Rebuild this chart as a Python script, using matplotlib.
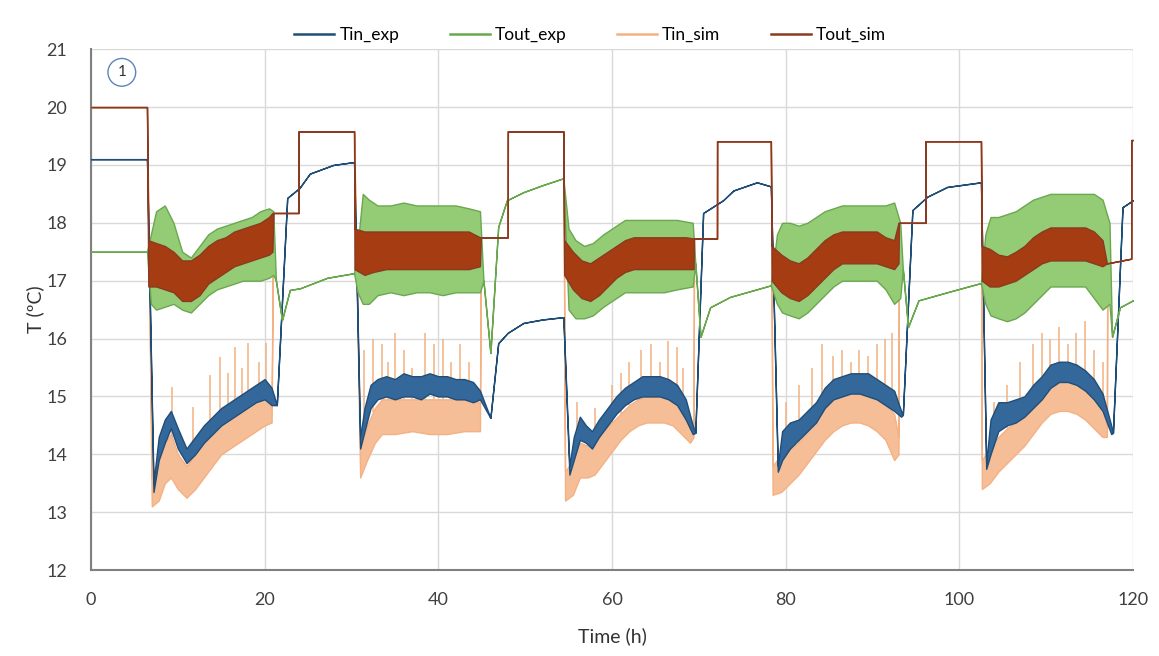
import numpy as np
import matplotlib
matplotlib.use("Agg")
import matplotlib.pyplot as plt
from matplotlib.lines import Line2D

plt.rcParams['font.family'] = ['Lato', 'DejaVu Sans']

# Each series: time (h), lower and upper envelope (ºC). lo == hi where the signal is a plain line.
tin_exp_t = [0, 6.45, 7.2, 7.8, 8.5, 9.2, 10.0, 11.0, 12.0, 13.0, 14.0, 15.0, 16.0, 17.0, 18.0, 19.0, 20.0, 20.8,
             21.4, 22.6, 24.0, 25.2, 27.9, 30.3,
             31.0, 31.5, 32.2, 33.0, 34.0, 35.0, 36.0, 37.0, 38.0, 39.0, 40.0, 41.0, 42.0, 43.0, 44.0, 44.8,
             46.0, 46.9, 48.0, 49.8, 52.0, 54.4,
             55.1, 55.6, 56.3, 57.0, 57.7, 58.5, 59.5, 60.5, 61.5, 62.5, 63.5, 64.5, 65.5, 66.5, 67.5, 68.5, 69.3,
             69.6, 70.5, 72.8, 74.0, 76.7, 78.3,
             79.1, 79.6, 80.5, 81.5, 82.5, 83.5, 84.5, 85.5, 86.5, 87.5, 88.5, 89.5, 90.5, 91.5, 92.5, 93.3,
             93.5, 94.6, 96.3, 98.6, 102.5,
             103.1, 103.6, 104.5, 105.5, 106.5, 107.5, 108.5, 109.5, 110.5, 111.5, 112.5, 113.5, 114.5, 115.5, 116.5, 117.5,
             117.7, 118.8, 120.0]
tin_exp_lo = [19.1, 19.1, 13.35, 13.9, 14.2, 14.45, 14.1, 13.85, 14.0, 14.2, 14.35, 14.5, 14.6, 14.7, 14.8, 14.9, 14.95, 14.85,
              14.85, 18.43, 18.6, 18.85, 19.0, 19.05,
              14.1, 14.4, 14.8, 14.95, 15.0, 14.95, 15.0, 15.0, 14.95, 15.05, 15.0, 15.0, 14.95, 14.95, 14.9, 14.95,
              14.63, 15.92, 16.1, 16.27, 16.33, 16.37,
              13.65, 13.9, 14.25, 14.2, 14.1, 14.3, 14.5, 14.7, 14.85, 14.95, 15.0, 15.0, 15.0, 14.95, 14.85, 14.6, 14.35,
              14.37, 18.17, 18.39, 18.56, 18.7, 18.63,
              13.7, 13.9, 14.1, 14.25, 14.4, 14.55, 14.8, 14.95, 15.0, 15.05, 15.05, 15.0, 14.95, 14.85, 14.75, 14.65,
              14.68, 18.22, 18.45, 18.62, 18.7,
              13.75, 14.0, 14.4, 14.5, 14.55, 14.65, 14.8, 14.95, 15.15, 15.25, 15.25, 15.2, 15.1, 14.95, 14.75, 14.35,
              14.37, 18.27, 18.39]
tin_exp_hi = [19.1, 19.1, 13.5, 14.3, 14.6, 14.75, 14.45, 14.1, 14.3, 14.5, 14.65, 14.8, 14.9, 15.0, 15.1, 15.2, 15.3, 15.15,
              14.85, 18.43, 18.6, 18.85, 19.0, 19.05,
              14.3, 14.8, 15.2, 15.3, 15.35, 15.3, 15.4, 15.35, 15.35, 15.4, 15.35, 15.35, 15.3, 15.3, 15.25, 15.1,
              14.63, 15.92, 16.1, 16.27, 16.33, 16.37,
              13.8, 14.3, 14.65, 14.5, 14.4, 14.6, 14.8, 15.0, 15.15, 15.25, 15.35, 15.35, 15.35, 15.3, 15.2, 14.95, 14.5,
              14.37, 18.17, 18.39, 18.56, 18.7, 18.63,
              13.8, 14.4, 14.55, 14.6, 14.75, 14.9, 15.15, 15.3, 15.35, 15.4, 15.4, 15.4, 15.3, 15.2, 15.1, 14.75,
              14.68, 18.22, 18.45, 18.62, 18.7,
              13.85, 14.6, 14.9, 14.9, 14.95, 15.0, 15.2, 15.35, 15.55, 15.6, 15.6, 15.55, 15.45, 15.3, 15.05, 14.5,
              14.37, 18.27, 18.39]

tout_exp_t = [0, 6.45, 6.9, 7.5, 8.5, 9.5, 10.5, 11.5, 12.5, 13.5, 14.5, 15.5, 16.5, 17.5, 18.5, 19.5, 20.5, 21.0,
              21.3, 22.0, 22.9, 24.1, 27.2, 30.3,
              30.7, 31.3, 32.0, 33.0, 34.5, 36.0, 37.5, 39.0, 40.5, 42.0, 43.5, 44.8,
              45.2, 46.0, 46.9, 47.9, 49.8, 52.0, 54.4,
              55.0, 55.8, 56.8, 57.8, 59.0, 60.0, 61.5, 63.0, 64.5, 66.0, 67.5, 69.3,
              69.6, 70.2, 71.3, 73.6, 78.3,
              79.0, 79.6, 80.5, 81.5, 82.5, 83.5, 84.5, 85.5, 86.5, 88.5, 90.5, 91.5, 92.5, 93.2,
              93.5, 94.1, 95.3, 98.6, 102.5,
              103.0, 103.6, 104.5, 105.5, 106.5, 107.5, 108.5, 109.5, 110.5, 112.5, 114.5, 115.5, 116.5, 117.3,
              117.6, 118.5, 120.0]
tout_exp_lo = [17.5, 17.5, 16.6, 16.5, 16.55, 16.6, 16.5, 16.45, 16.6, 16.75, 16.85, 16.9, 16.95, 17.0, 17.0, 17.0, 17.05, 17.1,
               17.0, 16.32, 16.84, 16.87, 17.05, 17.13,
               16.8, 16.6, 16.6, 16.75, 16.8, 16.75, 16.8, 16.8, 16.75, 16.8, 16.8, 16.8,
               17.0, 15.75, 17.93, 18.39, 18.53, 18.65, 18.77,
               16.5, 16.35, 16.35, 16.4, 16.55, 16.65, 16.8, 16.8, 16.8, 16.8, 16.85, 16.9,
               17.3, 16.03, 16.54, 16.72, 16.92,
               16.6, 16.45, 16.4, 16.35, 16.45, 16.6, 16.75, 16.9, 17.0, 17.0, 17.0, 16.85, 16.6, 16.7,
               17.2, 16.2, 16.66, 16.8, 16.96,
               16.6, 16.4, 16.35, 16.3, 16.35, 16.45, 16.6, 16.75, 16.9, 16.9, 16.9, 16.7, 16.5, 16.6,
               16.03, 16.54, 16.66]
tout_exp_hi = [17.5, 17.5, 17.8, 18.2, 18.3, 18.0, 17.5, 17.4, 17.6, 17.8, 17.9, 17.95, 18.0, 18.05, 18.1, 18.2, 18.25, 18.2,
               17.0, 16.32, 16.84, 16.87, 17.05, 17.13,
               17.6, 18.5, 18.4, 18.3, 18.3, 18.35, 18.3, 18.3, 18.3, 18.3, 18.25, 18.2,
               17.0, 15.75, 17.93, 18.39, 18.53, 18.65, 18.77,
               17.9, 17.7, 17.6, 17.65, 17.8, 17.9, 18.05, 18.05, 18.05, 18.05, 18.05, 18.0,
               17.3, 16.03, 16.54, 16.72, 16.92,
               17.8, 18.0, 18.0, 17.95, 18.0, 18.1, 18.2, 18.25, 18.3, 18.3, 18.3, 18.3, 18.35, 18.0,
               17.2, 16.2, 16.66, 16.8, 16.96,
               17.8, 18.1, 18.1, 18.15, 18.2, 18.3, 18.4, 18.45, 18.5, 18.5, 18.5, 18.5, 18.4, 18.0,
               16.03, 16.54, 16.66]

tin_sim_t = [0, 6.45, 7.0, 7.8, 8.5, 9.2, 10.0, 11.0, 12.0, 13.0, 14.0, 15.0, 16.0, 17.0, 18.0, 19.0, 20.0, 20.8,
             21.0, 23.9, 23.91, 30.3,
             31.0, 31.8, 32.7, 33.5, 35.0, 37.0, 39.0, 41.0, 43.0, 44.8,
             44.9, 48.0, 48.01, 54.4,
             54.6, 55.5, 56.3, 57.2, 58.0, 59.0, 60.0, 61.0, 62.0, 63.0, 64.0, 65.0, 66.0, 67.0, 68.0, 69.0, 69.4,
             69.45, 72.1, 72.11, 78.3,
             78.5, 79.5, 80.5, 81.5, 82.5, 83.5, 84.5, 85.5, 86.5, 87.5, 88.5, 89.5, 90.5, 91.5, 92.5, 93.0,
             93.05, 96.1, 96.11, 102.5,
             102.6, 103.5, 104.5, 105.5, 106.5, 107.5, 108.5, 109.5, 110.5, 111.5, 112.5, 113.5, 114.5, 115.5, 116.5, 117.0,
             117.05, 119.8, 119.81, 120.0]
tin_sim_lo = [20.0, 20.0, 13.1, 13.2, 13.5, 13.6, 13.4, 13.25, 13.4, 13.6, 13.8, 14.0, 14.1, 14.2, 14.3, 14.4, 14.5, 14.55,
              18.17, 18.17, 19.58, 19.58,
              13.6, 13.9, 14.2, 14.35, 14.35, 14.4, 14.35, 14.35, 14.4, 14.4,
              17.75, 17.75, 19.58, 19.58,
              13.2, 13.3, 13.6, 13.6, 13.65, 13.85, 14.05, 14.25, 14.4, 14.5, 14.55, 14.55, 14.55, 14.5, 14.35, 14.2, 14.3,
              17.73, 17.73, 19.41, 19.41,
              13.3, 13.35, 13.5, 13.65, 13.85, 14.05, 14.25, 14.4, 14.5, 14.55, 14.55, 14.5, 14.4, 14.25, 13.9, 14.0,
              18.0, 18.0, 19.41, 19.41,
              13.4, 13.5, 13.7, 13.85, 14.0, 14.15, 14.35, 14.55, 14.7, 14.75, 14.75, 14.7, 14.6, 14.45, 14.3, 14.3,
              17.3, 17.38, 19.43, 19.43]
tin_sim_hi = [20.0, 20.0, 13.6, 13.9, 14.2, 14.35, 14.0, 13.8, 14.0, 14.2, 14.4, 14.55, 14.65, 14.75, 14.85, 14.95, 15.0, 14.95,
              18.17, 18.17, 19.58, 19.58,
              14.1, 14.5, 14.8, 14.95, 14.95, 14.95, 14.95, 14.95, 14.95, 14.9,
              17.75, 17.75, 19.58, 19.58,
              13.7, 13.9, 14.2, 14.15, 14.2, 14.4, 14.55, 14.7, 14.85, 14.95, 15.0, 15.0, 15.0, 14.95, 14.8, 14.6, 14.4,
              17.73, 17.73, 19.41, 19.41,
              13.8, 14.0, 14.1, 14.2, 14.4, 14.6, 14.8, 14.95, 15.05, 15.1, 15.1, 15.05, 14.95, 14.85, 14.7, 14.3,
              18.0, 18.0, 19.41, 19.41,
              13.9, 14.1, 14.3, 14.45, 14.55, 14.7, 14.9, 15.1, 15.25, 15.3, 15.3, 15.25, 15.15, 15.0, 14.8, 14.5,
              17.3, 17.38, 19.43, 19.43]

tout_sim_t = [0, 6.45, 6.6, 7.5, 8.5, 9.5, 10.5, 11.5, 12.5, 13.5, 14.5, 15.5, 16.5, 17.5, 18.5, 19.5, 20.5, 20.9,
              21.0, 23.9, 23.91, 30.3,
              30.35, 31.5, 32.5, 34.0, 36.0, 38.0, 40.0, 42.0, 43.5, 44.8,
              44.9, 48.0, 48.01, 54.4,
              54.5, 55.5, 56.5, 57.5, 58.5, 59.5, 60.5, 61.5, 62.5, 64.5, 66.5, 68.5, 69.4,
              69.45, 72.1, 72.11, 78.3,
              78.4, 79.5, 80.5, 81.5, 82.5, 83.5, 84.5, 85.5, 86.5, 88.5, 90.5, 91.5, 92.5, 93.0,
              93.05, 96.1, 96.11, 102.5,
              102.6, 103.5, 104.5, 105.5, 106.5, 107.5, 108.5, 109.5, 110.5, 112.5, 114.5, 115.5, 116.5, 117.0,
              117.05, 119.8, 119.81, 120.0]
tout_sim_lo = [20.0, 20.0, 16.9, 16.9, 16.85, 16.8, 16.65, 16.65, 16.75, 16.95, 17.05, 17.15, 17.25, 17.3, 17.35, 17.4, 17.45, 17.5,
               18.17, 18.17, 19.58, 19.58,
               17.2, 17.1, 17.15, 17.2, 17.2, 17.2, 17.2, 17.2, 17.2, 17.25,
               17.75, 17.75, 19.58, 19.58,
               17.1, 16.85, 16.7, 16.65, 16.75, 16.9, 17.05, 17.15, 17.2, 17.2, 17.2, 17.2, 17.2,
               17.73, 17.73, 19.41, 19.41,
               17.0, 16.8, 16.7, 16.65, 16.75, 16.9, 17.05, 17.2, 17.3, 17.3, 17.3, 17.25, 17.2, 17.3,
               18.0, 18.0, 19.41, 19.41,
               17.0, 16.9, 16.9, 16.95, 17.0, 17.1, 17.2, 17.3, 17.35, 17.35, 17.35, 17.3, 17.25, 17.3,
               17.3, 17.38, 19.43, 19.43]
tout_sim_hi = [20.0, 20.0, 17.7, 17.65, 17.6, 17.5, 17.35, 17.35, 17.45, 17.6, 17.7, 17.75, 17.85, 17.9, 17.95, 18.0, 18.1, 18.17,
               18.17, 18.17, 19.58, 19.58,
               17.9, 17.85, 17.85, 17.85, 17.85, 17.85, 17.85, 17.85, 17.85, 17.75,
               17.75, 17.75, 19.58, 19.58,
               17.7, 17.5, 17.35, 17.3, 17.4, 17.5, 17.6, 17.7, 17.75, 17.75, 17.75, 17.75, 17.73,
               17.73, 17.73, 19.41, 19.41,
               17.6, 17.45, 17.35, 17.3, 17.4, 17.55, 17.7, 17.8, 17.85, 17.85, 17.85, 17.75, 17.7, 18.0,
               18.0, 18.0, 19.41, 19.41,
               17.6, 17.55, 17.45, 17.42, 17.5, 17.6, 17.75, 17.85, 17.92, 17.92, 17.92, 17.85, 17.7, 17.3,
               17.3, 17.38, 19.43, 19.43]

# upward spikes of Tin_sim (time, peak)
tin_sim_spike_t = [9.3, 11.8, 13.7, 14.9, 15.8, 16.6, 17.4, 18.1, 19.3, 20.2,
                   31.5, 32.5, 33.5, 34.2, 35.0, 36.0, 37.0, 38.5, 39.5, 40.5, 41.5, 42.5, 43.5,
                   56.0, 58.0, 60.0, 61.0, 62.0, 63.3, 64.5, 65.5, 66.5, 67.5, 68.2,
                   80.0, 81.5, 83.0, 84.2, 85.5, 86.5, 87.5, 88.5, 89.5, 90.5, 91.5, 92.3,
                   104.0, 105.5, 107.0, 108.5, 109.5, 110.5, 111.5, 112.5, 113.5, 114.5, 115.5, 116.5]
tin_sim_spike_v = [15.16, 14.82, 15.37, 15.68, 15.4, 15.85, 15.5, 15.92, 15.6, 15.92,
                   15.8, 16.0, 15.9, 15.6, 16.1, 15.8, 15.5, 16.1, 15.9, 16.0, 15.6, 15.9, 15.6,
                   14.9, 14.8, 15.2, 15.4, 15.6, 15.8, 15.9, 15.6, 15.95, 15.85, 15.5,
                   14.9, 15.2, 15.5, 15.9, 15.7, 15.8, 15.6, 15.8, 15.7, 15.9, 16.0, 16.1,
                   14.9, 15.2, 15.6, 15.9, 16.1, 16.0, 16.2, 15.9, 16.1, 16.3, 15.8, 15.6]

# name, t, lo, hi, fill colour, edge colour, zorder
series = [
    ('Tin_exp', tin_exp_t, tin_exp_lo, tin_exp_hi, '#34679A', '#1F4E79', 4),
    ('Tout_exp', tout_exp_t, tout_exp_lo, tout_exp_hi, '#94CC76', '#6AA84F', 5),
    ('Tin_sim', tin_sim_t, tin_sim_lo, tin_sim_hi, '#F6BE97', '#F4B183', 3),
    ('Tout_sim', tout_sim_t, tout_sim_lo, tout_sim_hi, '#A63C12', '#8B3A22', 6),
]

fig = plt.figure(figsize=(11.59, 6.56), dpi=100)
ax = fig.add_axes([0.0785, 0.131, 0.899, 0.794])

handles = []
for name, t, lo, hi, face, edge, z in series:
    ax.fill_between(t, lo, hi, facecolor=face, edgecolor=edge, linewidth=1.0, zorder=z)
    if name == 'Tin_sim':
        base = np.interp(tin_sim_spike_t, t, hi)
        ax.vlines(tin_sim_spike_t, base, tin_sim_spike_v, color=edge, linewidth=1.1, zorder=3)
    handles.append(Line2D([], [], color=edge, linewidth=1.8, label=name))

ax.set_xlim(0, 120)
ax.set_ylim(12, 21)
ax.set_xticks(range(0, 121, 20))
ax.set_yticks(range(12, 22))
ax.grid(True, color='#D9D9D9', linewidth=1.0, zorder=0)
ax.set_axisbelow(True)
for s in ['top', 'right']:
    ax.spines[s].set_visible(False)
for s in ['left', 'bottom']:
    ax.spines[s].set_color('#808080')
    ax.spines[s].set_linewidth(1.5)
ax.tick_params(axis='y', length=0, labelsize=13, colors='#404040', pad=17)
ax.tick_params(axis='x', length=0, labelsize=13, colors='#404040', pad=16)
ax.set_xlabel('Time (h)', fontsize=14, color='#333333', labelpad=14)
ax.set_ylabel('T (ºC)', fontsize=14, color='#333333', labelpad=2)

ax.legend(handles=handles, loc='lower center', bbox_to_anchor=(0.479, 0.995), ncol=4, frameon=False,
          fontsize=12.5, handlelength=2.3, columnspacing=2.9, handletextpad=0.3, borderaxespad=0.1)

ax.text(3.55, 20.6, '1', fontsize=11, ha='center', va='center', color='#333333', zorder=7,
        bbox=dict(boxstyle='circle,pad=0.45', facecolor='white', edgecolor='#5B87B8', linewidth=1.0))

fig.savefig('out.png', dpi=100)
